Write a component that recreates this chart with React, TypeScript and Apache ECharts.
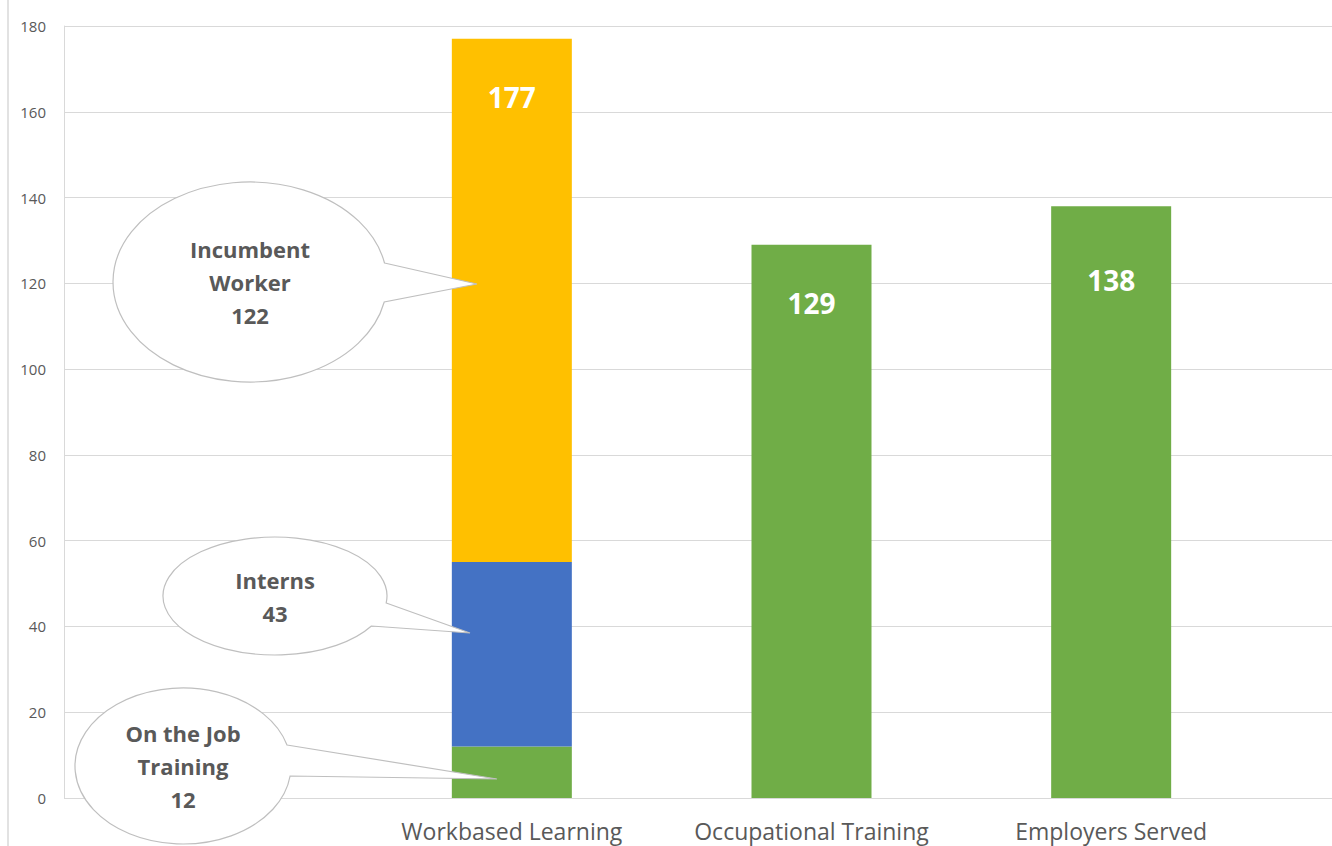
import React, { useEffect, useRef } from "react";
import * as echarts from "echarts";

// ---- data ----
const categories = ["Workbased Learning", "Occupational Training", "Employers Served"];
const ojtValues: (number | null)[] = [12, null, null];
const internValues: (number | null)[] = [43, null, null];
const incumbentValues: (number | null)[] = [122, null, null];
const otherValues: (number | null)[] = [null, 129, 138];
const seriesNames = ["On the Job Training", "Interns", "Incumbent Worker", "Total"];
const calloutTexts = ["On the Job\nTraining", "Interns", "Incumbent\nWorker"];
const yMin = 0;
const yMax = 180;
const yInterval = 20;

// ---- styles ----
const FONT = "'Open Sans', 'Liberation Sans', sans-serif";
const GREEN = "#70AD47";
const BLUE = "#4472C4";
const YELLOW = "#FFC000";
const GRID_COLOR = "#d9d9d9";
const TEXT_COLOR = "#595959";

type Callout = {
  cx: number; cy: number; rx: number; ry: number;
  dy1: number; dy2: number; tx: number; ty: number; lineHeight: number;
};
const calloutGeom: Callout[] = [
  { cx: 183, cy: 766, rx: 108, ry: 78, dy1: -21, dy2: 10, tx: 497, ty: 779, lineHeight: 33 },
  { cx: 275, cy: 596, rx: 112, ry: 59, dy1: 7, dy2: 30, tx: 470, ty: 633, lineHeight: 33 },
  { cx: 250, cy: 282, rx: 137, ry: 100, dy1: -19, dy2: 20, tx: 477, ty: 284, lineHeight: 33 },
];
const labelDistances = [44, 44, 60];

function calloutPath(c: Callout): string {
  const x1 = c.cx + c.rx * Math.sqrt(1 - (c.dy1 / c.ry) ** 2);
  const y1 = c.cy + c.dy1;
  const x2 = c.cx + c.rx * Math.sqrt(1 - (c.dy2 / c.ry) ** 2);
  const y2 = c.cy + c.dy2;
  return `M ${x1} ${y1} L ${c.tx} ${c.ty} L ${x2} ${y2} A ${c.rx} ${c.ry} 0 1 1 ${x1} ${y1} Z`;
}

export default function App() {
  const ref = useRef<HTMLDivElement>(null);
  useEffect(() => {
    if (!ref.current) return;
    const chart = echarts.init(ref.current, undefined, { renderer: "svg" });

    const stackValues = [ojtValues, internValues, incumbentValues];
    const total0 = stackValues.reduce((s, arr) => s + (arr[0] ?? 0), 0);
    const segValues = [ojtValues[0], internValues[0], incumbentValues[0]];

    calloutGeom.forEach((c, i) => {
      echarts.graphic.registerShape("callout" + i, echarts.graphic.extendPath(calloutPath(c), {}));
    });

    const labelStyle = {
      color: "#ffffff",
      fontSize: 28,
      fontWeight: "bold" as const,
      fontFamily: FONT,
      position: "insideTop" as const,
    };

    const graphic: any[] = [
      {
        type: "line",
        shape: { x1: 8, y1: 0, x2: 8, y2: 846 },
        style: { stroke: GRID_COLOR, lineWidth: 1.5 },
        silent: true,
      },
    ];
    calloutGeom.forEach((c, i) => {
      graphic.push({
        type: "callout" + i,
        x: 0,
        y: 0,
        style: { fill: "#ffffff", stroke: "#bfbfbf", lineWidth: 1.2 },
        z: 100,
      });
      graphic.push({
        type: "text",
        x: c.cx,
        y: c.cy,
        z: 101,
        style: {
          text: calloutTexts[i] + "\n" + segValues[i],
          fill: TEXT_COLOR,
          fontSize: 22,
          fontWeight: "bold",
          fontFamily: FONT,
          align: "center",
          verticalAlign: "middle",
          lineHeight: c.lineHeight,
        },
      });
    });

    const toData = (arr: (number | null)[]) => arr.map((v) => (v == null ? "-" : v));

    chart.setOption({
      animation: false,
      backgroundColor: "#ffffff",
      grid: [
        { left: 64, right: 0, top: 26, bottom: 48 },
        { left: 362, right: 71, top: 26, bottom: 48 },
      ],
      xAxis: [
        { type: "category", gridIndex: 0, data: categories, show: false },
        {
          type: "category",
          gridIndex: 1,
          data: categories,
          axisLine: { show: false },
          axisTick: { show: false },
          axisLabel: {
            color: TEXT_COLOR,
            fontSize: 23,
            fontFamily: FONT,
            margin: 21,
            interval: 0,
            hideOverlap: false,
          },
        },
      ],
      yAxis: [
        {
          type: "value",
          gridIndex: 0,
          min: yMin,
          max: yMax,
          interval: yInterval,
          axisLine: { show: true, lineStyle: { color: GRID_COLOR } },
          axisTick: { show: false },
          axisLabel: { color: TEXT_COLOR, fontSize: 15, fontFamily: FONT, margin: 18 },
          splitLine: { show: true, lineStyle: { color: GRID_COLOR, width: 1.2 } },
        },
        {
          type: "value",
          gridIndex: 1,
          min: yMin,
          max: yMax,
          interval: yInterval,
          show: false,
          splitLine: { show: false },
        },
      ],
      series: [
        {
          name: seriesNames[0],
          type: "bar",
          xAxisIndex: 1,
          yAxisIndex: 1,
          stack: "s",
          barWidth: 120,
          itemStyle: { color: GREEN },
          data: toData(ojtValues),
        },
        {
          name: seriesNames[1],
          type: "bar",
          xAxisIndex: 1,
          yAxisIndex: 1,
          stack: "s",
          barWidth: 120,
          itemStyle: { color: BLUE },
          data: toData(internValues),
        },
        {
          name: seriesNames[2],
          type: "bar",
          xAxisIndex: 1,
          yAxisIndex: 1,
          stack: "s",
          barWidth: 120,
          itemStyle: { color: YELLOW },
          label: { ...labelStyle, show: false },
          data: incumbentValues.map((v, i) =>
            v == null
              ? "-"
              : i === 0
              ? { value: v, label: { show: true, distance: labelDistances[0], formatter: () => String(total0) } }
              : v
          ),
        },
        {
          name: seriesNames[3],
          type: "bar",
          xAxisIndex: 1,
          yAxisIndex: 1,
          stack: "s",
          barWidth: 120,
          itemStyle: { color: GREEN },
          label: { ...labelStyle, show: false },
          data: otherValues.map((v, i) =>
            v == null ? "-" : { value: v, label: { show: true, distance: labelDistances[i] } }
          ),
        },
      ],
      graphic,
    });

    return () => chart.dispose();
  }, []);

  return (
    <div
      ref={ref}
      style={{ position: "fixed", left: 0, top: 0, width: "1332px", height: "846px", background: "#fff" }}
    />
  );
}
